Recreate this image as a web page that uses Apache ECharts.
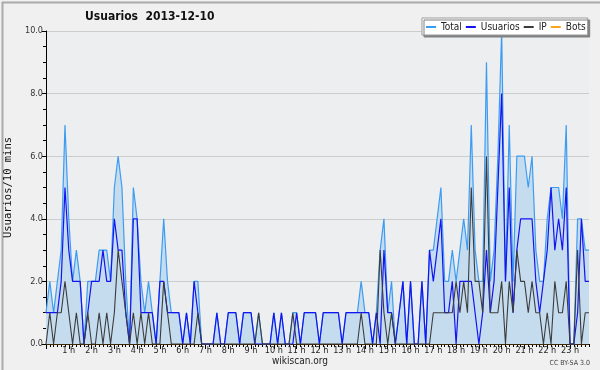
<!DOCTYPE html>
<html>
<head>
<meta charset="utf-8">
<script src="https://cdn.jsdelivr.net/npm/echarts@6/dist/echarts.min.js"></script>
<style>
html, body { margin: 0; padding: 0; background: #f0f0f0; }
#chart { width: 600px; height: 370px; }
</style>
</head>
<body>
<div id="chart"></div>
<script>
// Usuarios por 10 minutos, 2013-12-10 (144 franjas)
var total = [
	1, 2, 1, 2, 3, 7, 4, 2, 3, 2,
	0, 2, 2, 2, 3, 3, 3, 2, 5, 6,
	5, 2, 0, 5, 4, 2, 1, 2, 1, 0,
	2, 4, 2, 1, 1, 1, 0, 1, 0, 2,
	2, 0, 0, 0, 0, 1, 0, 0, 1, 1,
	1, 0, 1, 1, 1, 0, 1, 0, 0, 0,
	1, 0, 1, 0, 0, 1, 1, 0, 1, 1,
	1, 1, 0, 1, 1, 1, 1, 1, 0, 1,
	1, 1, 1, 2, 1, 1, 0, 1, 3, 4,
	1, 2, 0, 1, 2, 0, 2, 0, 0, 2,
	0, 3, 3, 4, 5, 2, 2, 3, 2, 3,
	4, 3, 7, 3, 2, 2, 9, 2, 3, 6,
	10, 2, 7, 2, 6, 6, 6, 5, 6, 3,
	2, 2, 4, 5, 5, 5, 4, 7, 0, 0,
	4, 4, 3, 3
];
var usuarios = [
	1, 1, 1, 1, 2, 5, 3, 2, 2, 2,
	0, 1, 2, 2, 2, 3, 2, 2, 4, 3,
	3, 1, 0, 4, 4, 1, 1, 1, 1, 0,
	2, 2, 1, 1, 1, 1, 0, 1, 0, 2,
	1, 0, 0, 0, 0, 1, 0, 0, 1, 1,
	1, 0, 1, 1, 1, 0, 0, 0, 0, 0,
	1, 0, 1, 0, 0, 0, 1, 0, 1, 1,
	1, 1, 0, 1, 1, 1, 1, 1, 0, 1,
	1, 1, 1, 1, 1, 1, 0, 1, 0, 3,
	1, 1, 0, 1, 2, 0, 2, 0, 0, 2,
	0, 3, 2, 3, 4, 1, 1, 2, 0, 2,
	2, 2, 2, 1, 0, 1, 3, 1, 2, 5,
	8, 2, 5, 1, 3, 4, 4, 4, 4, 2,
	1, 2, 3, 5, 3, 4, 3, 5, 0, 0,
	1, 4, 2, 2
];
var ip = [
	0, 1, 0, 1, 1, 2, 1, 0, 1, 0,
	0, 1, 0, 0, 1, 0, 1, 0, 1, 3,
	2, 1, 0, 1, 0, 1, 0, 1, 0, 0,
	0, 2, 1, 0, 0, 0, 0, 0, 0, 0,
	1, 0, 0, 0, 0, 0, 0, 0, 0, 0,
	0, 0, 0, 0, 0, 0, 1, 0, 0, 0,
	0, 0, 0, 0, 0, 1, 0, 0, 0, 0,
	0, 0, 0, 0, 0, 0, 0, 0, 0, 0,
	0, 0, 0, 1, 0, 0, 0, 0, 3, 1,
	0, 1, 0, 0, 0, 0, 0, 0, 0, 0,
	0, 0, 1, 1, 1, 1, 1, 1, 2, 1,
	2, 1, 5, 2, 2, 1, 6, 1, 1, 1,
	2, 0, 2, 1, 3, 2, 2, 1, 2, 1,
	1, 0, 1, 0, 2, 1, 1, 2, 0, 0,
	3, 0, 1, 1
];
var bots = [
	0, 0, 0, 0, 0, 0, 0, 0, 0, 0,
	0, 0, 0, 0, 0, 0, 0, 0, 0, 0,
	0, 0, 0, 0, 0, 0, 0, 0, 0, 0,
	0, 0, 0, 0, 0, 0, 0, 0, 0, 0,
	0, 0, 0, 0, 0, 0, 0, 0, 0, 0,
	0, 0, 0, 0, 0, 0, 0, 0, 0, 0,
	0, 0, 0, 0, 0, 0, 0, 0, 0, 0,
	0, 0, 0, 0, 0, 0, 0, 0, 0, 0,
	0, 0, 0, 0, 0, 0, 0, 0, 0, 0,
	0, 0, 0, 0, 0, 0, 0, 0, 0, 0,
	0, 0, 0, 0, 0, 0, 0, 0, 0, 0,
	0, 0, 0, 0, 0, 0, 0, 0, 0, 0,
	0, 0, 0, 0, 0, 0, 0, 0, 0, 0,
	0, 0, 0, 0, 0, 0, 0, 0, 0, 0,
	0, 0, 0, 0
];
var yTicks = [0, 2, 4, 6, 8, 10];

// franjas de 10 minutos
var slots = [];
for (var i = 0; i < 144; i++) {
	var h = Math.floor(i / 6), m = (i % 6) * 10;
	slots.push((h < 10 ? '0' : '') + h + ':' + (m < 10 ? '0' : '') + m);
}

var myChart = echarts.init(document.getElementById('chart'), null, { renderer: 'canvas' });

var font = '"DejaVu Sans Condensed", "DejaVu Sans", sans-serif';
var option = {
	animation : false,
	backgroundColor : '#f0f0f0',
	title : {
		text : 'Usuarios  2013-12-10',
		left : 85,
		top : 11,
		padding : 0,
		textStyle : {
			fontFamily : font,
			fontSize : 12,
			fontWeight : 'bold',
			color : '#111'
		}
	},
	legend : {
		left : 422,
		top : 18,
		padding : [ 4, 2, 3, 4 ],
		itemGap : 4,
		itemWidth : 10,
		itemHeight : 2,
		icon : 'rect',
		backgroundColor : '#ffffff',
		borderColor : '#9a9a9a',
		borderWidth : 1,
		shadowColor : '#808080',
		shadowOffsetX : 2,
		shadowOffsetY : 2,
		shadowBlur : 0,
		textStyle : {
			fontFamily : font,
			fontSize : 10,
			color : '#222'
		},
		data : [ 'Total', 'Usuarios', 'IP', 'Bots' ]
	},
	grid : {
		left : 46,
		right : 11,
		top : 31,
		bottom : 26,
		outerBoundsMode : 'none',
		containLabel : false,
		show : true,
		backgroundColor : '#eceef0',
		borderWidth : 0
	},
	xAxis : [ {
		type : 'category',
		data : slots,
		boundaryGap : false,
		axisLine : { lineStyle : { color : '#000', width : 1 } },
		axisTick : { interval : 0, length : 3, lineStyle : { color : '#000' } },
		axisLabel : { show : false },
		splitLine : { show : false }
	}, {
		type : 'category',
		data : slots,
		boundaryGap : false,
		position : 'bottom',
		axisLine : { show : false },
		axisTick : {
			length : 5,
			interval : function(index) { return index % 6 === 0; },
			lineStyle : { color : '#000' }
		},
		axisLabel : {
			margin : 2,
			interval : function(index) { return index % 6 === 0 && index > 0; },
			formatter : function(v, index) { return (index / 6) + ' h'; },
			fontFamily : font,
			fontSize : 9,
			color : '#222'
		},
		splitLine : { show : false }
	} ],
	yAxis : {
		type : 'value',
		min : yTicks[0],
		max : yTicks[yTicks.length - 1],
		interval : 2,
		name : 'Usuarios/10 mins',
		nameLocation : 'middle',
		nameGap : 30,
		nameTextStyle : {
			fontFamily : 'DejaVu Sans Mono',
			fontSize : 10.5,
			color : '#111'
		},
		axisLine : { show : true, lineStyle : { color : '#000', width : 1 } },
		axisTick : { show : true, length : 4, lineStyle : { color : '#000' } },
		minorTick : { show : true, splitNumber : 4, length : 3, lineStyle : { color : '#000' } },
		axisLabel : {
			margin : 3,
			fontFamily : font,
			fontSize : 9,
			color : '#333',
			formatter : function(v) { return v.toFixed(1); }
		},
		splitLine : { lineStyle : { color : '#cccccc', width : 1 } }
	},
	series : [ {
		name : 'Total',
		type : 'line',
		data : total,
		showSymbol : false,
		symbol : 'none',
		lineStyle : { color : '#3d9cf2', width : 1.2 },
		itemStyle : { color : '#3d9cf2' },
		areaStyle : { color : '#c5dcef', opacity : 1 },
		z : 2
	}, {
		name : 'Usuarios',
		type : 'line',
		data : usuarios,
		showSymbol : false,
		symbol : 'none',
		lineStyle : { color : '#1414f0', width : 1.2 },
		itemStyle : { color : '#1414f0' },
		z : 3
	}, {
		name : 'IP',
		type : 'line',
		data : ip,
		showSymbol : false,
		symbol : 'none',
		lineStyle : { color : '#3c3c3c', width : 1.1 },
		itemStyle : { color : '#3c3c3c' },
		z : 4
	}, {
		name : 'Bots',
		type : 'line',
		data : bots,
		showSymbol : false,
		symbol : 'none',
		lineStyle : { color : '#ffa31a', width : 1 },
		itemStyle : { color : '#ffa31a' },
		z : 1
	} ],
	graphic : [ {
		type : 'text',
		left : 'center',
		top : 356,
		style : {
			text : 'wikiscan.org',
			fontFamily : font,
			fontSize : 10,
			fill : '#222'
		}
	}, {
		type : 'text',
		right : 10,
		top : 360,
		style : {
			text : 'CC BY-SA 3.0',
			fontFamily : font,
			fontSize : 7,
			fill : '#444'
		}
	}, {
		type : 'rect',
		left : 0,
		top : 0,
		shape : { x : 0, y : 0, width : 599, height : 369 },
		style : { fill : 'none', stroke : '#aaaaaa', lineWidth : 2 },
		silent : true
	} ]
};

myChart.setOption(option);
</script>
</body>
</html>
